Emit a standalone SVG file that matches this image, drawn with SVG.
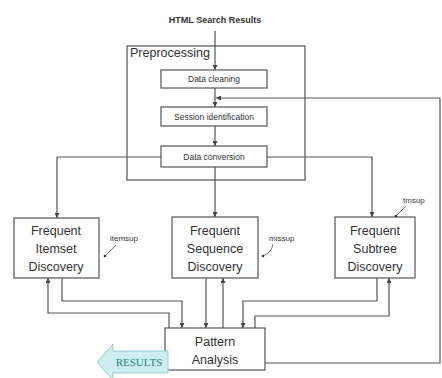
<svg xmlns="http://www.w3.org/2000/svg" width="442" height="378" viewBox="0 0 442 378">
<defs>
<style>
.box{fill:#fff;stroke:#555;stroke-width:1.2}
.ln{fill:none;stroke:#555;stroke-width:1.2}
.t{font-family:"Liberation Sans",Arial,sans-serif;fill:#333;text-anchor:middle}
.s{font-size:8.5px}
.m{font-size:12.5px}
.lbl{font-family:"Liberation Sans",Arial,sans-serif;fill:#333;font-size:8px}
</style>
<marker id="ah" viewBox="0 0 6 6" refX="6" refY="3" markerWidth="5" markerHeight="5" orient="auto" markerUnits="userSpaceOnUse">
<path d="M0,0 L6,3 L0,6 z" fill="#444"/>
</marker>
</defs>
<rect width="442" height="378" fill="#fff"/>
<text class="t" x="215" y="23" style="font-size:9px;font-weight:bold">HTML Search Results</text>
<g id="preprocessing">
<rect class="box" x="127" y="46" width="178" height="134"/>
<text x="130" y="57" style="font-family:'Liberation Sans',Arial,sans-serif;font-size:12.5px;fill:#333">Preprocessing</text>
</g>
<g id="connectors">
<line class="ln" x1="215" y1="31" x2="215" y2="70" marker-end="url(#ah)"/>
<line class="ln" x1="215" y1="88" x2="215" y2="107" marker-end="url(#ah)"/>
<line class="ln" x1="215" y1="126" x2="215" y2="146" marker-end="url(#ah)"/>
<polyline class="ln" points="440,98 440,363 265,363"/>
<line class="ln" x1="440" y1="98" x2="216" y2="98" marker-end="url(#ah)"/>
<polyline class="ln" points="161,157 57,157 57,218" marker-end="url(#ah)"/>
<polyline class="ln" points="267,157 372,157 372,217" marker-end="url(#ah)"/>
<line class="ln" x1="215" y1="167" x2="215" y2="217" marker-end="url(#ah)"/>
<polyline class="ln" points="169,328 169,313 48,313 48,278" marker-end="url(#ah)"/>
<polyline class="ln" points="62,278 62,301 182,301 182,328" marker-end="url(#ah)"/>
<line class="ln" x1="206" y1="278" x2="206" y2="328" marker-end="url(#ah)"/>
<line class="ln" x1="223" y1="328" x2="223" y2="278" marker-end="url(#ah)"/>
<polyline class="ln" points="377,278 377,301 243,301 243,328" marker-end="url(#ah)"/>
<polyline class="ln" points="255,328 255,316 389,316 389,278" marker-end="url(#ah)"/>
</g>
<g id="data-cleaning">
<rect class="box" x="161" y="70" width="106" height="18"/>
<text class="t s" x="214" y="82">Data cleaning</text>
</g>
<g id="session-identification">
<rect class="box" x="161" y="107" width="106" height="19"/>
<text class="t s" x="214" y="120">Session identification</text>
</g>
<g id="data-conversion">
<rect class="box" x="161" y="146" width="106" height="21"/>
<text class="t s" x="214" y="160">Data conversion</text>
</g>
<g id="itemset">
<rect class="box" x="14" y="218" width="85" height="60"/>
<text class="t m" x="56" y="235">Frequent</text>
<text class="t m" x="56" y="253">Itemset</text>
<text class="t m" x="56" y="271">Discovery</text>
<text class="lbl" x="110" y="241">itemsup</text>
<line class="ln" x1="116" y1="245" x2="105" y2="256" style="stroke-width:0.8"/>
<circle cx="105" cy="256" r="1.3" fill="#333"/>
</g>
<g id="sequence">
<rect class="box" x="172" y="217" width="86" height="61"/>
<text class="t m" x="215" y="235">Frequent</text>
<text class="t m" x="215" y="253">Sequence</text>
<text class="t m" x="215" y="271">Discovery</text>
<text class="lbl" x="269" y="241">missup</text>
<path class="ln" d="M273,244 Q272,252 263,256" style="stroke-width:0.8"/>
<circle cx="263" cy="256" r="1.3" fill="#333"/>
</g>
<g id="subtree">
<rect class="box" x="335" y="217" width="80" height="61"/>
<text class="t m" x="375" y="235">Frequent</text>
<text class="t m" x="375" y="253">Subtree</text>
<text class="t m" x="375" y="271">Discovery</text>
<text class="lbl" x="403" y="203">tmsup</text>
<line class="ln" x1="406" y1="206" x2="396" y2="216" style="stroke-width:0.8"/>
<circle cx="396" cy="216" r="1.3" fill="#333"/>
</g>
<g id="pattern-analysis">
<rect class="box" x="165" y="328" width="100" height="42"/>
<text class="t m" x="215" y="346">Pattern</text>
<text class="t m" x="215" y="364">Analysis</text>
</g>
<g id="results">
<path d="M97,362 L113,344 L113,351 L168,351 L168,373 L113,373 L113,380 Z" fill="#cdeeee" stroke="#9cc" stroke-width="1"/>
<text x="139" y="366" style="font-family:'Liberation Serif','Times New Roman',serif;font-size:11px;fill:#2a7f86;text-anchor:middle">RESULTS</text>
</g>
</svg>
